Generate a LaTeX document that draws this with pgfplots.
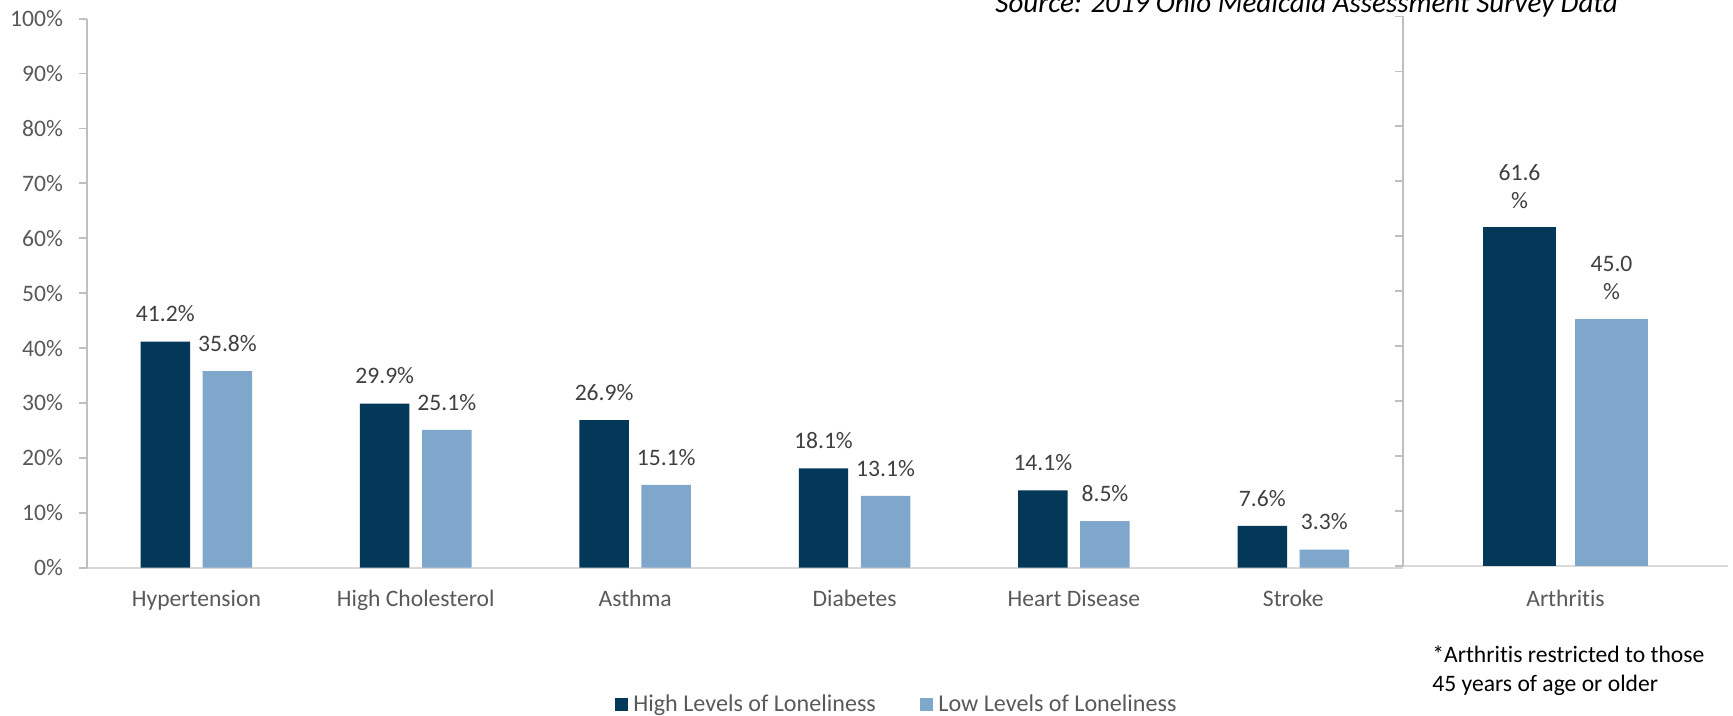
\documentclass[border=0pt]{standalone}
\usepackage{fontspec}
\setmainfont{Carlito}[Ligatures={NoCommon}]
\usepackage{pgfplots}
\usepackage{pgfplotstable}
\pgfplotsset{compat=1.18}
\definecolor{darkbar}{RGB}{3,56,89}
\definecolor{lightbar}{RGB}{127,166,203}
\definecolor{axisgray}{RGB}{191,191,191}
\definecolor{basegray}{RGB}{217,217,217}
\definecolor{ticklab}{RGB}{89,89,89}
\definecolor{datalab}{RGB}{64,64,64}
\newcommand{\fs}{\fontsize{11.8}{14.2}\selectfont}

\pgfplotstableread{
x high low
0 41.2 35.8
1 29.9 25.1
2 26.9 15.1
3 18.1 13.1
4 14.1 8.5
5 7.6 3.3
}\maintable
\pgfplotstableread{
x high low
0 61.6 45.0
}\arthtable

\pgfplotsset{
  sqlegend/.style={legend image code/.code={\fill[##1] (0pt,-3.25pt) rectangle (6.5pt,3.25pt);}},
  commonstyle/.style={
    scale only axis, anchor=south west,
    ybar, bar width=0.2255, ymin=0, ymax=100,
    axis lines*=left,
    x axis line style={draw=basegray, line width=0.9pt},
    y axis line style={draw=axisgray, line width=0.9pt},
    x tick style={draw=none},
    ytick={0,10,...,100},
    y tick style={draw=axisgray, line width=0.9pt},
    tick align=outside, major tick length=3.85pt,
    /pgf/number format/assume math mode=true,
    every node near coord/.append style={font=\fs, text=datalab, anchor=south, inner sep=0pt, align=center},
  }
}

\begin{document}
\begin{tikzpicture}
\useasboundingbox (0,0) rectangle (866.5pt,358pt);
\begin{axis}[
  commonstyle,
  at={(43.35pt,74.15pt)}, width=658.15pt, height=274.5pt,
  xmin=-0.5, xmax=5.5,
  xtick={0,...,5},
  xticklabels={Hypertension, High Cholesterol, Asthma, Diabetes, Heart Disease, Stroke},
  yticklabel={\pgfmathprintnumber{\tick}\%},
  xticklabel style={font=\fs, text=ticklab, anchor=base, inner sep=0pt, yshift=-15.65pt},
  yticklabel style={font=\fs, text=ticklab, anchor=east, inner sep=0pt, xshift=-7.85pt},
  nodes near coords={\pgfmathprintnumber[fixed,fixed zerofill,precision=1]{\pgfplotspointmeta}\%},
  every node near coord/.append style={yshift=9.5pt},
  legend columns=2,
  legend style={draw=none, fill=none, at={(0.4013,-0.2492)}, anchor=west, inner sep=0pt,
    font=\fontsize{12.05}{14.5}\selectfont, text=ticklab, nodes={inner sep=0pt},
    /tikz/every odd column/.append style={column sep=2.5pt},
    /tikz/every even column/.append style={column sep=22.25pt}},
]
\addplot[fill=darkbar, draw=none, bar shift=-0.1415, sqlegend]
  table[x=x,y=high]{\maintable};
\addlegendentry{High Levels of Loneliness}
\addplot[fill=lightbar, draw=none, bar shift=0.1415, sqlegend]
  table[x=x,y=low]{\maintable};
\addlegendentry{Low Levels of Loneliness}
\end{axis}
\begin{axis}[
  commonstyle,
  at={(701.5pt,75.15pt)}, width=162.5pt, height=274.6pt,
  xmin=-0.5, xmax=0.5,
  xtick={0}, xticklabels={Arthritis},
  yticklabels={},
  xticklabel style={font=\fs, text=ticklab, anchor=base, inner sep=0pt, yshift=-16.65pt},
  nodes near coords={\pgfmathprintnumber[fixed,fixed zerofill,precision=1]{\pgfplotspointmeta}\\\%},
  every node near coord/.append style={yshift=9pt},
]
\addplot[fill=darkbar, draw=none, bar shift=-0.1415] table[x=x,y=high]{\arthtable};
\addplot[fill=lightbar, draw=none, bar shift=0.1415] table[x=x,y=low]{\arthtable};
\end{axis}
\node[anchor=base west, inner sep=0pt, font=\fontsize{14.5}{17}\selectfont\itshape] at (497.5pt,351.75pt)
  {Source: 2019 Ohio Medicaid Assessment Survey Data};
\node[anchor=base west, inner sep=0pt, font=\fs] at (716pt,26.65pt) {*Arthritis restricted to those};
\node[anchor=base west, inner sep=0pt, font=\fs] at (716pt,12.15pt) {45 years of age or older};
\end{tikzpicture}
\end{document}
